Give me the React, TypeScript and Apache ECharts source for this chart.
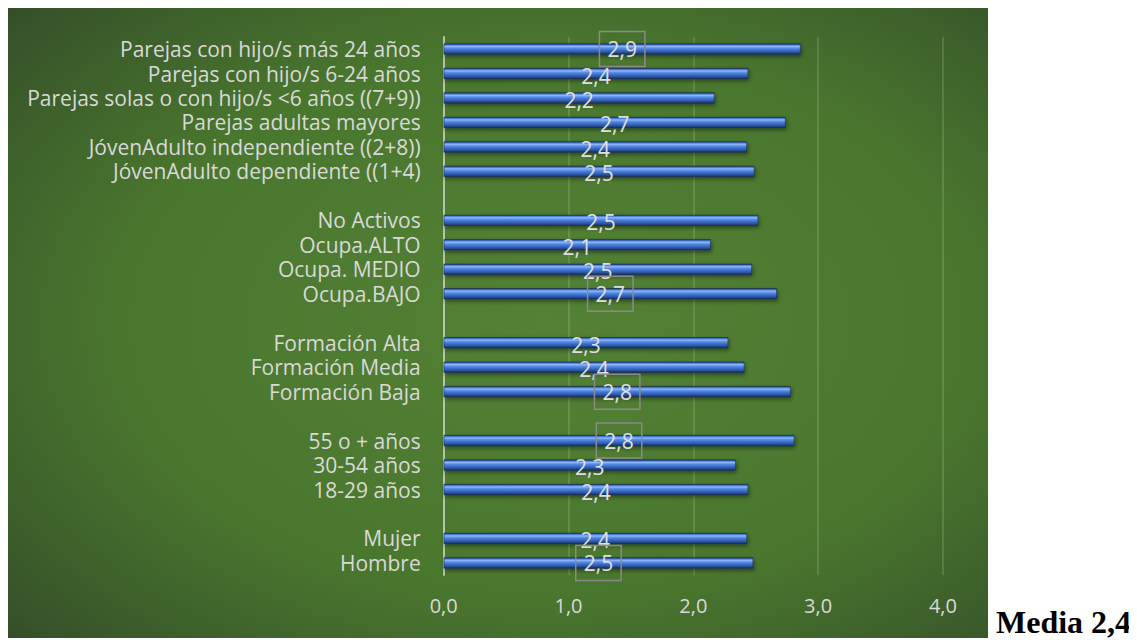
import React, { useEffect, useRef } from "react";
import * as echarts from "echarts";

// Categories from top to bottom; empty strings are the gaps between groups.
const categories: string[] = [
  "Parejas con hijo/s más 24 años",
  "Parejas con hijo/s 6-24 años",
  "Parejas solas o con hijo/s <6 años ((7+9))",
  "Parejas adultas mayores",
  "JóvenAdulto independiente ((2+8))",
  "JóvenAdulto dependiente ((1+4)",
  "",
  "No Activos",
  "Ocupa.ALTO",
  "Ocupa. MEDIO",
  "Ocupa.BAJO",
  "",
  "Formación Alta",
  "Formación Media",
  "Formación Baja",
  "",
  "55 o + años",
  "30-54 años",
  "18-29 años",
  "",
  "Mujer",
  "Hombre",
];

const values: (number | null)[] = [
  2.86, 2.44, 2.17, 2.74, 2.43, 2.49,
  null,
  2.52, 2.14, 2.47, 2.67,
  null,
  2.28, 2.41, 2.78,
  null,
  2.81, 2.34, 2.44,
  null,
  2.43, 2.48,
];

// Categories whose value label is framed.
const highlighted: string[] = [
  "Parejas con hijo/s más 24 años",
  "Ocupa.BAJO",
  "Formación Baja",
  "55 o + años",
  "Hombre",
];

const axisMin = 0;
const axisMax = 4;
const axisInterval = 1;

const mediaLabel = "Media";
const mediaValue = 2.4;

const FONT = '"Open Sans", "Noto Sans", sans-serif';
const fmt = (v: number) => v.toFixed(1).replace(".", ",");

export default function App() {
  const ref = useRef<HTMLDivElement>(null);

  useEffect(() => {
    if (!ref.current) return;
    const chart = echarts.init(ref.current, null, { renderer: "svg" });

    const barGradient = new echarts.graphic.LinearGradient(0, 0, 0, 1, [
      { offset: 0, color: "#1c3563" },
      { offset: 0.1, color: "#3f74cf" },
      { offset: 0.25, color: "#8fb9ff" },
      { offset: 0.4, color: "#5b8ee8" },
      { offset: 0.6, color: "#3e70cc" },
      { offset: 0.8, color: "#2b55a3" },
      { offset: 0.92, color: "#1f3f7c" },
      { offset: 1, color: "#152b55" },
    ]);

    const data = values.map((v, i) =>
      v == null
        ? null
        : highlighted.includes(categories[i])
        ? {
            value: v,
            label: {
              borderColor: "#8a8a8a",
              borderWidth: 1.5,
              padding: [7, 8, 7, 8],
              offset: [0, 0],
            },
          }
        : { value: v }
    );

    chart.setOption({
      animation: false,
      backgroundColor: {
        type: "radial",
        x: 0.55,
        y: 0.5,
        r: 0.95,
        colorStops: [
          { offset: 0, color: "#538135" },
          { offset: 0.45, color: "#4a772e" },
          { offset: 0.75, color: "#37532a" },
          { offset: 1, color: "#1e221f" },
        ],
      },
      grid: { left: 435.7, right: 45.1, top: 28.8, bottom: 62.8, containLabel: false },
      xAxis: {
        type: "value",
        min: axisMin,
        max: axisMax,
        interval: axisInterval,
        axisLine: { show: false },
        axisTick: { show: false },
        splitLine: { show: true, lineStyle: { color: "rgba(220,230,210,0.22)", width: 1.5 } },
        axisLabel: {
          color: "#d9d9d9",
          fontFamily: FONT,
          fontSize: 20,
          margin: 20,
          formatter: (v: number) => fmt(v),
        },
      },
      yAxis: {
        type: "category",
        data: categories,
        inverse: true,
        axisTick: { show: false },
        axisLine: { show: true, lineStyle: { color: "#d2d6cc", width: 1.5 } },
        axisLabel: {
          color: "#d9d9d9",
          fontFamily: FONT,
          fontSize: 21,
          lineHeight: 22,
          margin: 23,
          interval: 0,
        },
        splitLine: { show: false },
      },
      series: [
        {
          type: "bar",
          data,
          barWidth: 11,
          itemStyle: {
            color: barGradient,
            borderColor: "#172f5a",
            borderWidth: 0.6,
            shadowColor: "rgba(0,0,0,0.45)",
            shadowBlur: 4,
            shadowOffsetY: 2,
            shadowOffsetX: 1,
          },
          label: {
            show: true,
            position: "inside",
            offset: [0, 2],
            color: "#e0e0e0",
            fontFamily: FONT,
            fontSize: 21,
            formatter: (p: any) => fmt(p.value),
          },
        },
      ],
    });

    return () => chart.dispose();
  }, []);

  return (
    <div style={{ position: "relative", width: 1121, height: 630 }}>
      <div ref={ref} style={{ width: 980, height: 630 }} />
      <span
        style={{
          position: "absolute",
          left: 988,
          top: 602,
          fontFamily: '"Liberation Serif", "Times New Roman", serif',
          fontWeight: "bold",
          fontSize: 32,
          lineHeight: "24px",
          whiteSpace: "nowrap",
          color: "#000",
        }}
      >
        {mediaLabel} {fmt(mediaValue)}
      </span>
    </div>
  );
}
